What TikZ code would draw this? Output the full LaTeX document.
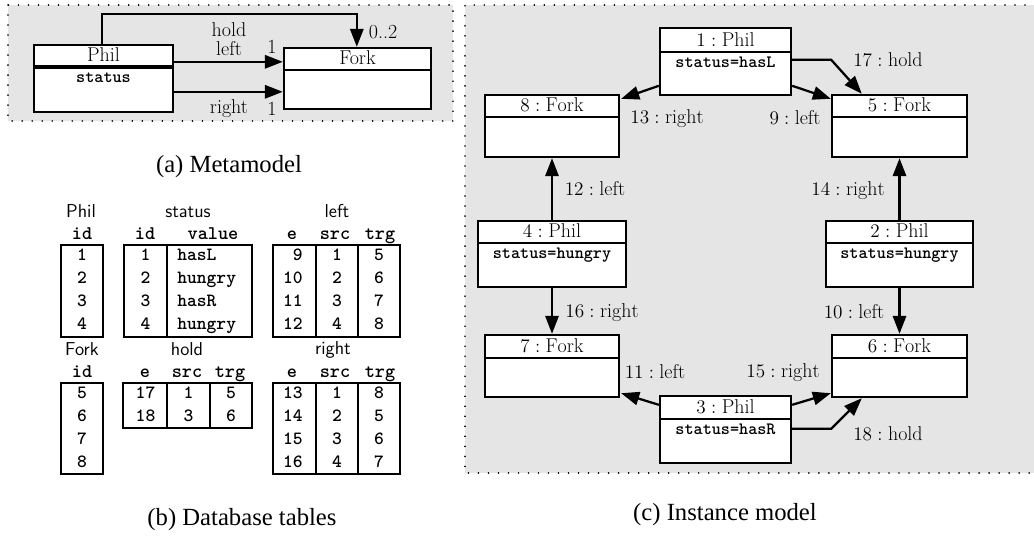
\documentclass[tikz,border=0pt]{standalone}
\usepackage{fontspec}
\newfontfamily\capfont{Liberation Serif}
\usetikzlibrary{arrows.meta,calc}
\newcommand\elab[2]{$#1:\mathrm{#2}$}
\newcommand\umlbox[9]{%
  \node[ubox, minimum width={(#4-#2)*0.75pt}, minimum height={(#5-#3)*0.75pt}] (#1) at ({(#2+#4)/2},{(#3+#5)/2}) {};
  \draw[line width=#9] (#2,#6) -- (#4,#6);
  \node[lbl] (#1-t) at ({(#2+#4)/2},{#6-6}) {#7};
  \node[attr] (#1-a) at ({(#2+#4)/2},{#6+15}) {#8};
}
\tikzset{
 every node/.style={inner sep=0pt, font=\fontsize{15}{18}\selectfont},
 ubox/.style={draw, fill=white, line width=1.8pt, inner sep=0pt},
 arr/.style={line width=1.7pt, -{Triangle[length=13.5pt,width=10pt]}},
 lbl/.style={anchor=base},
 attr/.style={anchor=base, font=\fontsize{13}{15}\selectfont\ttfamily\bfseries},
 tab/.style={line width=1.8pt},
 cell/.style={anchor=base, font=\fontsize{14}{16}\selectfont\ttfamily\bfseries},
 hdr/.style={anchor=base, font=\fontsize{14.5}{16}\selectfont\ttfamily\bfseries},
 tname/.style={anchor=base, font=\fontsize{14}{16}\selectfont\sffamily},
 captxt/.style={anchor=base, font=\capfont\fontsize{18.5}{22}\selectfont},
 dotbord/.style={line width=1.3pt, dash pattern=on 0.01pt off 7.5pt, line cap=round},
}
\begin{document}
\begin{tikzpicture}[x=0.75pt,y=-0.75pt]
\path[use as bounding box] (0,0) rectangle (1034,537);
\clip (0,0) rectangle (1034,537);
\fill[white] (0,0) rectangle (1034,537);

% ---------- (a) Metamodel ----------
\fill[gray!20] (8,5) rectangle (453,121);
\draw[dotbord] (8,5) rectangle (453,121);
\umlbox{phil}{34}{45}{173}{112}{67}{Phil}{status}{2.6pt}
\umlbox{fork}{284}{48}{431}{109}{70}{Fork}{}{1.8pt}
\draw[arr] ($(phil.north east)+(0,18)$) -- ($(fork.north west)+(0,15)$);
\draw[arr] ($(phil.north east)+(0,48)$) -- ($(fork.north west)+(0,45)$);
\draw[arr] ($(phil.north west)+(69,0)$) -- ++(0,-30) -| ($(fork.north west)+(74,0)$);
\node[lbl] (mhold) at (229,36) {hold};
\node[lbl] (mleft) at (229,55) {left};
\node[lbl] (mone1) at (272,53) {1};
\node[lbl] (mzt) at (383,38) {0..2};
\node[lbl] (mright) at (229,113) {right};
\node[lbl] (mone2) at (272,115) {1};
\node[captxt] (capa) at (229,172) {(a) Metamodel};

% ---------- (b) Database tables ----------
\node[tname] (hphil) at (81,217) {Phil};
\node[tname] (hstat) at (188,217) {status};
\node[tname] (hleft) at (337,217) {left};
\node[hdr] (c1a) at (82,239) {id};
\node[hdr] (c1b) at (145,239) {id};
\node[hdr] (c1c) at (213,239) {value};
\node[hdr] (c1d) at (292,239) {e};
\node[hdr] (c1e) at (335,239) {src};
\node[hdr] (c1f) at (380,239) {trg};
\draw[tab] (61,245) rectangle (103,337);
\draw[tab] (124,245) rectangle (252,337) (167,245) -- (167,337);
\draw[tab] (273,245) rectangle (400,337) (316,245) -- (316,337) (358,245) -- (358,337);
\foreach \a/\v/\e/\s/\t [count=\i] in {1/hasL/9/1/5, 2/hungry/10/2/6, 3/hasR/11/3/7, 4/hungry/12/4/8}{
  \node[cell] (pid\i) at (82,{260+23*(\i-1)}) {\a};
  \node[cell] (sid\i) at (145.5,{260+23*(\i-1)}) {\a};
  \node[cell, anchor=base west] (sval\i) at (177,{260+23*(\i-1)}) {\v};
  \node[cell, anchor=base east] (le\i) at (303,{260+23*(\i-1)}) {\e};
  \node[cell] (ls\i) at (337,{260+23*(\i-1)}) {\s};
  \node[cell] (lt\i) at (379,{260+23*(\i-1)}) {\t};
}
\node[tname] (hfork) at (82,355) {Fork};
\node[tname] (hhold) at (187,355) {hold};
\node[tname] (hright) at (333,354) {right};
\node[hdr] (c2a) at (82,377) {id};
\node[hdr] (c2b) at (145,377) {e};
\node[hdr] (c2c) at (187,377) {src};
\node[hdr] (c2d) at (230,377) {trg};
\node[hdr] (c2e) at (292,377) {e};
\node[hdr] (c2f) at (335,377) {src};
\node[hdr] (c2g) at (380,377) {trg};
\draw[tab] (61,383) rectangle (103,474);
\draw[tab] (123,383) rectangle (252,428) (167,383) -- (167,428) (210,383) -- (210,428);
\draw[tab] (273,383) rectangle (400,474) (316,383) -- (316,474) (358,383) -- (358,474);
\foreach \f/\e/\s/\t [count=\i] in {5/13/1/8, 6/14/2/5, 7/15/3/6, 8/16/4/7}{
  \node[cell] (fid\i) at (82,{398+23*(\i-1)}) {\f};
  \node[cell, anchor=base east] (re\i) at (303,{398+23*(\i-1)}) {\e};
  \node[cell] (rs\i) at (337,{398+23*(\i-1)}) {\s};
  \node[cell] (rt\i) at (379,{398+23*(\i-1)}) {\t};
}
\foreach \e/\s/\t [count=\i] in {17/1/5, 18/3/6}{
  \node[cell] (he\i) at (145.5,{398+23*(\i-1)}) {\e};
  \node[cell] (hs\i) at (188.5,{398+23*(\i-1)}) {\s};
  \node[cell] (ht\i) at (231,{398+23*(\i-1)}) {\t};
}
\node[captxt] (capb) at (242,525) {(b) Database tables};

% ---------- (c) Instance model ----------
\fill[gray!20] (465,5) rectangle (1045,473);
\draw[dotbord] (1045,5) -- (465,5) -- (465,473) -- (1045,473);
\umlbox{p1}{660}{28}{791}{95}{52}{\elab{1}{Phil}}{status=hasL}{1.8pt}
\umlbox{f8}{485}{95}{619}{157}{117}{\elab{8}{Fork}}{}{1.8pt}
\umlbox{f5}{832}{95}{967}{157}{117}{\elab{5}{Fork}}{}{1.8pt}
\umlbox{p4}{478}{221}{626}{287}{243}{\elab{4}{Phil}}{status=hungry}{1.8pt}
\umlbox{p2}{826}{221}{973}{287}{243}{\elab{2}{Phil}}{status=hungry}{1.8pt}
\umlbox{f7}{485}{335}{619}{397}{358}{\elab{7}{Fork}}{}{1.8pt}
\umlbox{f6}{832}{335}{967}{397}{358}{\elab{6}{Fork}}{}{1.8pt}
\umlbox{p3}{660}{396}{791}{463}{419}{\elab{3}{Phil}}{status=hasR}{1.8pt}

\draw[arr] ($(p1.north west)+(0,59)$) -- ($(f8.north east)+(1,5)$);
\draw[arr] ($(p1.north east)+(0,59)$) -- ($(f5.north west)+(0,5)$);
\draw[arr] ($(p1.north east)+(0,33)$) -- ++(39,0) -- ($(f5.north west)+(31,0)$);
\draw[arr] (p4.north) -- (f8.south);
\draw[arr] (p2.north) -- (f5.south);
\draw[arr] (p4.south) -- (f7.north);
\draw[arr] (p2.south) -- (f6.north);
\draw[arr] ($(p3.north west)+(0,10)$) -- ($(f7.south east)+(1,-5)$);
\draw[arr] ($(p3.north east)+(0,10)$) -- ($(f6.south west)+(0,-5)$);
\draw[arr] ($(p3.north east)+(0,34)$) -- ++(39,0) -- ($(f6.south west)+(31,0)$);

\node[lbl] (l13) at (667,123) {\elab{13}{right}};
\node[lbl] (l9) at (795,124) {\elab{9}{left}};
\node[lbl] (l17) at (888,66) {\elab{17}{hold}};
\node[lbl] (l12) at (595,195) {\elab{12}{left}};
\node[lbl] (l14) at (848,195) {\elab{14}{right}};
\node[lbl] (l16) at (602,317) {\elab{16}{right}};
\node[lbl] (l10) at (854,318) {\elab{10}{left}};
\node[lbl] (l11) at (655,378) {\elab{11}{left}};
\node[lbl] (l15) at (783,377) {\elab{15}{right}};
\node[lbl] (l18) at (888,440) {\elab{18}{hold}};
\node[captxt] (capc) at (725,520) {(c) Instance model};
\end{tikzpicture}
\end{document}
